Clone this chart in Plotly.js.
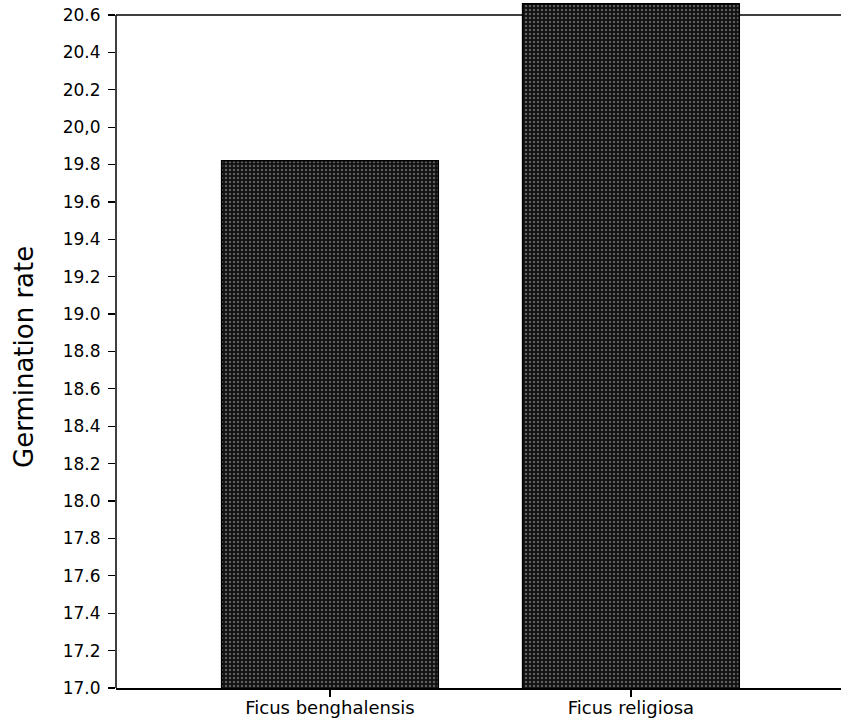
<!DOCTYPE html>
<html>
<head>
<meta charset="utf-8">
<script src="https://cdn.plot.ly/plotly-3.0.1.min.js"></script>
<style>html,body{margin:0;padding:0;background:#fff;}</style>
</head>
<body>
<div id="chart" style="width:841px;height:727px;"></div>
<script>
const categories = ["Ficus benghalensis", "Ficus religiosa"];
const germinationRate = [19.82, 20.66];
const yTickValues = [17.0, 17.2, 17.4, 17.6, 17.8, 18.0, 18.2, 18.4, 18.6, 18.8, 19.0, 19.2, 19.4, 19.6, 19.8, 20.0, 20.2, 20.4, 20.6];
const yTickLabels = ["17.0", "17.2", "17.4", "17.6", "17.8", "18.0", "18.2", "18.4", "18.6", "18.8", "19.0", "19.2", "19.4", "19.6", "19.8", "20,0", "20.2", "20.4", "20.6"];
const yTitle = "Germination rate";

const trace = {
  type: "bar",
  x: [0, 1],
  y: germinationRate,
  marker: {
    color: "#111111",
    line: {color: "#000", width: 1.5},
    pattern: {shape: ".", fgcolor: "#5e5e5e", bgcolor: "#111111", size: 4, solidity: 0.3}
  },
  hoverinfo: "skip"
};

const layout = {
  width: 841, height: 727,
  margin: {l: 116, r: 0, t: 0, b: 39},
  paper_bgcolor: "#fff", plot_bgcolor: "#fff",
  showlegend: false,
  bargap: 0.28,
  font: {family: "DejaVu Sans, Arial, sans-serif", color: "#000"},
  xaxis: {
    range: [-0.711, 1.698],
    tickvals: [0, 1],
    ticktext: categories,
    ticks: "outside", ticklen: 7, tickwidth: 1.2, tickcolor: "#000",
    ticklabelstandoff: -4,
    showline: true, linecolor: "#000", linewidth: 1.5,
    showgrid: false, zeroline: false,
    tickfont: {size: 18, color: "#000"}
  },
  yaxis: {
    range: [17, 20.68],
    tickvals: yTickValues,
    ticktext: yTickLabels,
    ticks: "outside", ticklen: 7, tickwidth: 1.2, tickcolor: "#000",
    ticklabelstandoff: 4,
    showline: false, showgrid: false, zeroline: false,
    tickfont: {size: 17, color: "#000"}
  },
  annotations: [
    {text: yTitle, xref: "paper", yref: "paper", x: -0.127, y: 0.481, xanchor: "center", yanchor: "middle",
     textangle: -90, showarrow: false, font: {size: 26, color: "#000"}}
  ],
  shapes: [
    {type: "line", xref: "paper", yref: "y", x0: 0, x1: 0, y0: 17, y1: 20.6, line: {color: "#000", width: 1.5}, layer: "above"},
    {type: "line", xref: "paper", yref: "y", x0: 0, x1: 1, y0: 20.6, y1: 20.6, line: {color: "#000", width: 1.5}, layer: "below"}
  ]
};

Plotly.newPlot("chart", [trace], layout, {displayModeBar: false, staticPlot: true});
</script>
</body>
</html>
